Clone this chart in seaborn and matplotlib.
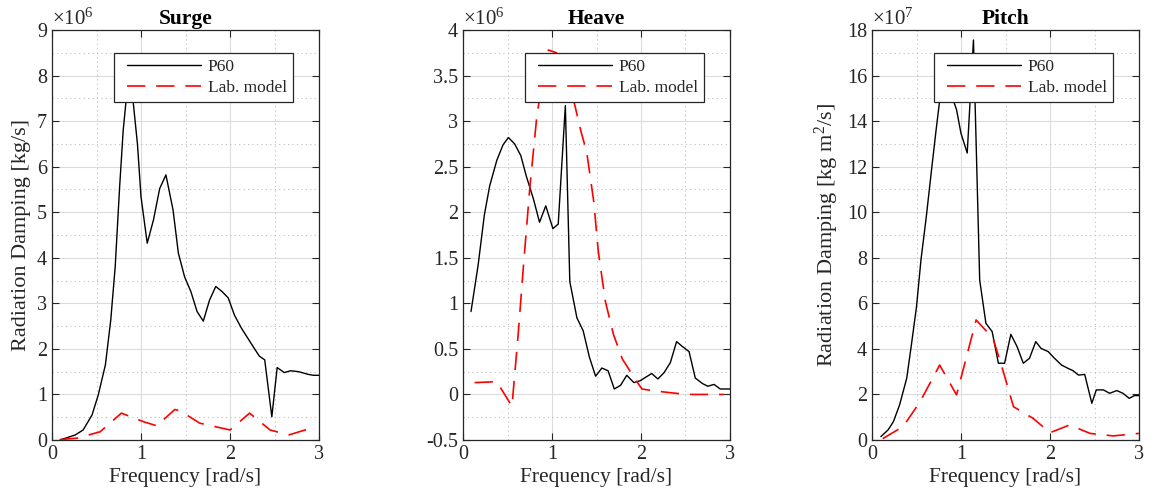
import numpy as np
import matplotlib
matplotlib.use("Agg")
import matplotlib.pyplot as plt
from matplotlib.ticker import MultipleLocator
from matplotlib.lines import Line2D
from matplotlib.legend_handler import HandlerLine2D
import seaborn as sns

# ---------------- data (values in units of the axis multiplier) ----------------
surge_p60_w = [0.09, 0.26, 0.35, 0.45, 0.52, 0.60, 0.66, 0.71, 0.76, 0.80, 0.85, 0.88, 0.91, 0.96, 1.00,
               1.07, 1.14, 1.21, 1.28, 1.36, 1.42, 1.49, 1.56, 1.63, 1.70, 1.77, 1.84, 1.91, 1.98,
               2.05, 2.13, 2.26, 2.33, 2.39, 2.47, 2.53, 2.61, 2.68, 2.77, 2.88, 2.94, 3.00]
surge_p60 = [0.00, 0.11, 0.22, 0.55, 0.99, 1.65, 2.63, 3.80, 5.56, 6.80, 7.80, 8.10, 7.46, 6.50, 5.34,
             4.32, 4.83, 5.52, 5.82, 5.05, 4.10, 3.58, 3.26, 2.82, 2.61, 3.07, 3.37, 3.26, 3.12,
             2.74, 2.45, 2.05, 1.84, 1.76, 0.51, 1.59, 1.48, 1.52, 1.50, 1.44, 1.42, 1.42]
surge_lab_w = [0.09, 0.28, 0.54, 0.78, 1.03, 1.18, 1.25, 1.38, 1.44, 1.66, 2.00, 2.22, 2.45, 2.66, 2.86, 2.97]
surge_lab = [0.01, 0.04, 0.18, 0.59, 0.40, 0.31, 0.44, 0.67, 0.64, 0.37, 0.22, 0.59, 0.22, 0.11, 0.23, 0.16]

heave_p60_w = [0.09, 0.17, 0.24, 0.30, 0.38, 0.45, 0.51, 0.58, 0.65, 0.71, 0.79, 0.86, 0.93, 1.01, 1.07,
               1.15, 1.20, 1.28, 1.35, 1.42, 1.49, 1.56, 1.63, 1.70, 1.77, 1.84, 1.92, 1.99, 2.12,
               2.19, 2.26, 2.33, 2.40, 2.46, 2.54, 2.61, 2.69, 2.75, 2.82, 2.89, 3.00]
heave_p60 = [0.91, 1.42, 1.97, 2.29, 2.57, 2.74, 2.82, 2.75, 2.62, 2.40, 2.15, 1.89, 2.07, 1.82, 1.87,
             3.17, 1.24, 0.84, 0.70, 0.41, 0.20, 0.29, 0.26, 0.06, 0.10, 0.21, 0.13, 0.15, 0.23,
             0.17, 0.24, 0.35, 0.58, 0.53, 0.47, 0.18, 0.12, 0.09, 0.11, 0.06, 0.06]
heave_lab_w = [0.13, 0.38, 0.55, 0.62, 0.68, 0.75, 0.83, 0.90, 0.96, 1.05, 1.15, 1.25, 1.33, 1.39, 1.47,
               1.52, 1.60, 1.69, 1.79, 1.92, 2.01, 2.14, 2.37, 2.52, 2.93]
heave_lab = [0.13, 0.14, -0.13, 0.66, 1.42, 2.26, 3.06, 3.49, 3.78, 3.75, 3.50, 3.20, 2.87, 2.66, 2.11,
             1.57, 1.02, 0.66, 0.39, 0.19, 0.06, 0.04, 0.015, 0.0, 0.0]

pitch_p60_w = [0.10, 0.18, 0.24, 0.31, 0.39, 0.44, 0.50, 0.55, 0.61, 0.67, 0.72, 0.76, 0.82, 0.88, 0.95,
               1.00, 1.07, 1.14, 1.21, 1.28, 1.35, 1.42, 1.49, 1.56, 1.63, 1.70, 1.77, 1.84, 1.90,
               1.98, 2.05, 2.13, 2.20, 2.26, 2.32, 2.39, 2.47, 2.52, 2.60, 2.67, 2.75, 2.82, 2.89,
               2.95, 3.00]
pitch_p60 = [0.15, 0.44, 0.80, 1.54, 2.71, 4.10, 5.85, 7.90, 9.80, 11.9, 13.6, 14.9, 15.8, 15.3, 14.5,
             13.46, 12.6, 17.56, 7.02, 5.12, 4.76, 3.37, 3.37, 4.64, 4.10, 3.37, 3.59, 4.32, 4.02,
             3.88, 3.59, 3.29, 3.15, 3.04, 2.85, 2.88, 1.61, 2.20, 2.20, 2.05, 2.17, 2.05, 1.83,
             1.95, 1.95]
pitch_lab_w = [0.12, 0.35, 0.54, 0.76, 0.95, 1.17, 1.36, 1.47, 1.59, 1.81, 2.00, 2.22, 2.45, 2.71, 3.00]
pitch_lab = [0.06, 0.59, 1.68, 3.29, 1.98, 5.27, 4.46, 3.07, 1.46, 0.95, 0.32, 0.66, 0.29, 0.18, 0.29]

titles = ["Surge", "Heave", "Pitch"]
multipliers = ["6", "6", "7"]
ylabels = ["Radiation Damping [kg/s]", "", "Radiation Damping [kg m$^2$/s]"]
xlabel = "Frequency [rad/s]"
series_names = ["P60", "Lab. model"]
heave_ticklabels = ["-0.5", "0", "0.5", "1", "1.5", "2", "2.5", "3", "3.5", "4"]

# ---------------- style ----------------
sns.set_theme(style="ticks")
plt.rcParams["font.family"] = ["Liberation Serif", "DejaVu Serif"]
plt.rcParams["mathtext.fontset"] = "custom"
plt.rcParams["mathtext.rm"] = "Liberation Serif"
plt.rcParams["mathtext.it"] = "Liberation Serif:italic"
plt.rcParams["mathtext.bf"] = "Liberation Serif:bold"

fig = plt.figure(figsize=(11.49, 5.01), dpi=100)
lefts = [52, 463, 872]
W, B, H = 267 / 1149, 61 / 501, 410 / 501

data = [
    (surge_p60_w, surge_p60, surge_lab_w, surge_lab, (0, 9), 1, 0.5),
    (heave_p60_w, heave_p60, heave_lab_w, heave_lab, (-0.5, 4), 0.5, 0.25),
    (pitch_p60_w, pitch_p60, pitch_lab_w, pitch_lab, (0, 18), 2, 1),
]

DASH = (11, 6.5)
txt_col = "#262626"
for i, (pw, pv, lw_, lv, ylim, ymaj, ymin) in enumerate(data):
    ax = fig.add_axes([lefts[i] / 1149, B, W, H])
    sns.lineplot(x=pw, y=pv, ax=ax, color="black", lw=1.0, label=series_names[0], estimator=None)
    sns.lineplot(x=lw_, y=lv, ax=ax, color="red", lw=1.2, label=series_names[1], estimator=None)
    ax.lines[-1].set_dashes(DASH)
    ax.set_xlim(0, 3)
    ax.set_ylim(*ylim)
    ax.xaxis.set_major_locator(MultipleLocator(1))
    ax.xaxis.set_minor_locator(MultipleLocator(0.5))
    ax.yaxis.set_major_locator(MultipleLocator(ymaj))
    ax.yaxis.set_minor_locator(MultipleLocator(ymin))
    if i == 1:
        ax.set_yticks(np.arange(-0.5, 4.01, 0.5))
        ax.set_yticklabels(heave_ticklabels)
    ax.grid(which="major", color="#dcdcdc", lw=0.8, ls="-")
    ax.grid(which="minor", color="#bdbdbd", lw=0.8, ls=(0, (1, 3)))
    ax.set_axisbelow(True)
    ax.tick_params(which="both", direction="in", top=True, right=True, colors=txt_col,
                   labelsize=14.5, labelcolor=txt_col)
    ax.tick_params(which="major", length=5, width=0.8)
    ax.tick_params(which="minor", length=0)
    for s in ax.spines.values():
        s.set_color(txt_col)
        s.set_linewidth(0.9)
    ax.set_xlabel(xlabel, fontsize=15.5, color=txt_col, labelpad=3)
    ax.set_ylabel(ylabels[i], fontsize=16, color=txt_col)
    ax.set_title(titles[i], fontsize=15.5, fontweight="bold", color="black", pad=4)
    ax.text(0.0, 1.0, r"$\times10^{" + multipliers[i] + "}$", transform=ax.transAxes,
            ha="left", va="bottom", fontsize=15, color=txt_col)
    leg = ax.legend(loc="upper right", bbox_to_anchor=(0.903, 0.944),
                    fontsize=12.5, frameon=True, fancybox=False, framealpha=1, edgecolor=txt_col,
                    handlelength=4.65, borderpad=0.35, labelspacing=0.28, handletextpad=0.4,
                    borderaxespad=0, handler_map={Line2D: HandlerLine2D(xpad=0.4)})
    leg.get_frame().set_linewidth(0.9)
    leg.get_lines()[1].set_dashes(DASH)
    leg.get_lines()[1].set_linewidth(1.2)

fig.savefig("out.png", dpi=100)
